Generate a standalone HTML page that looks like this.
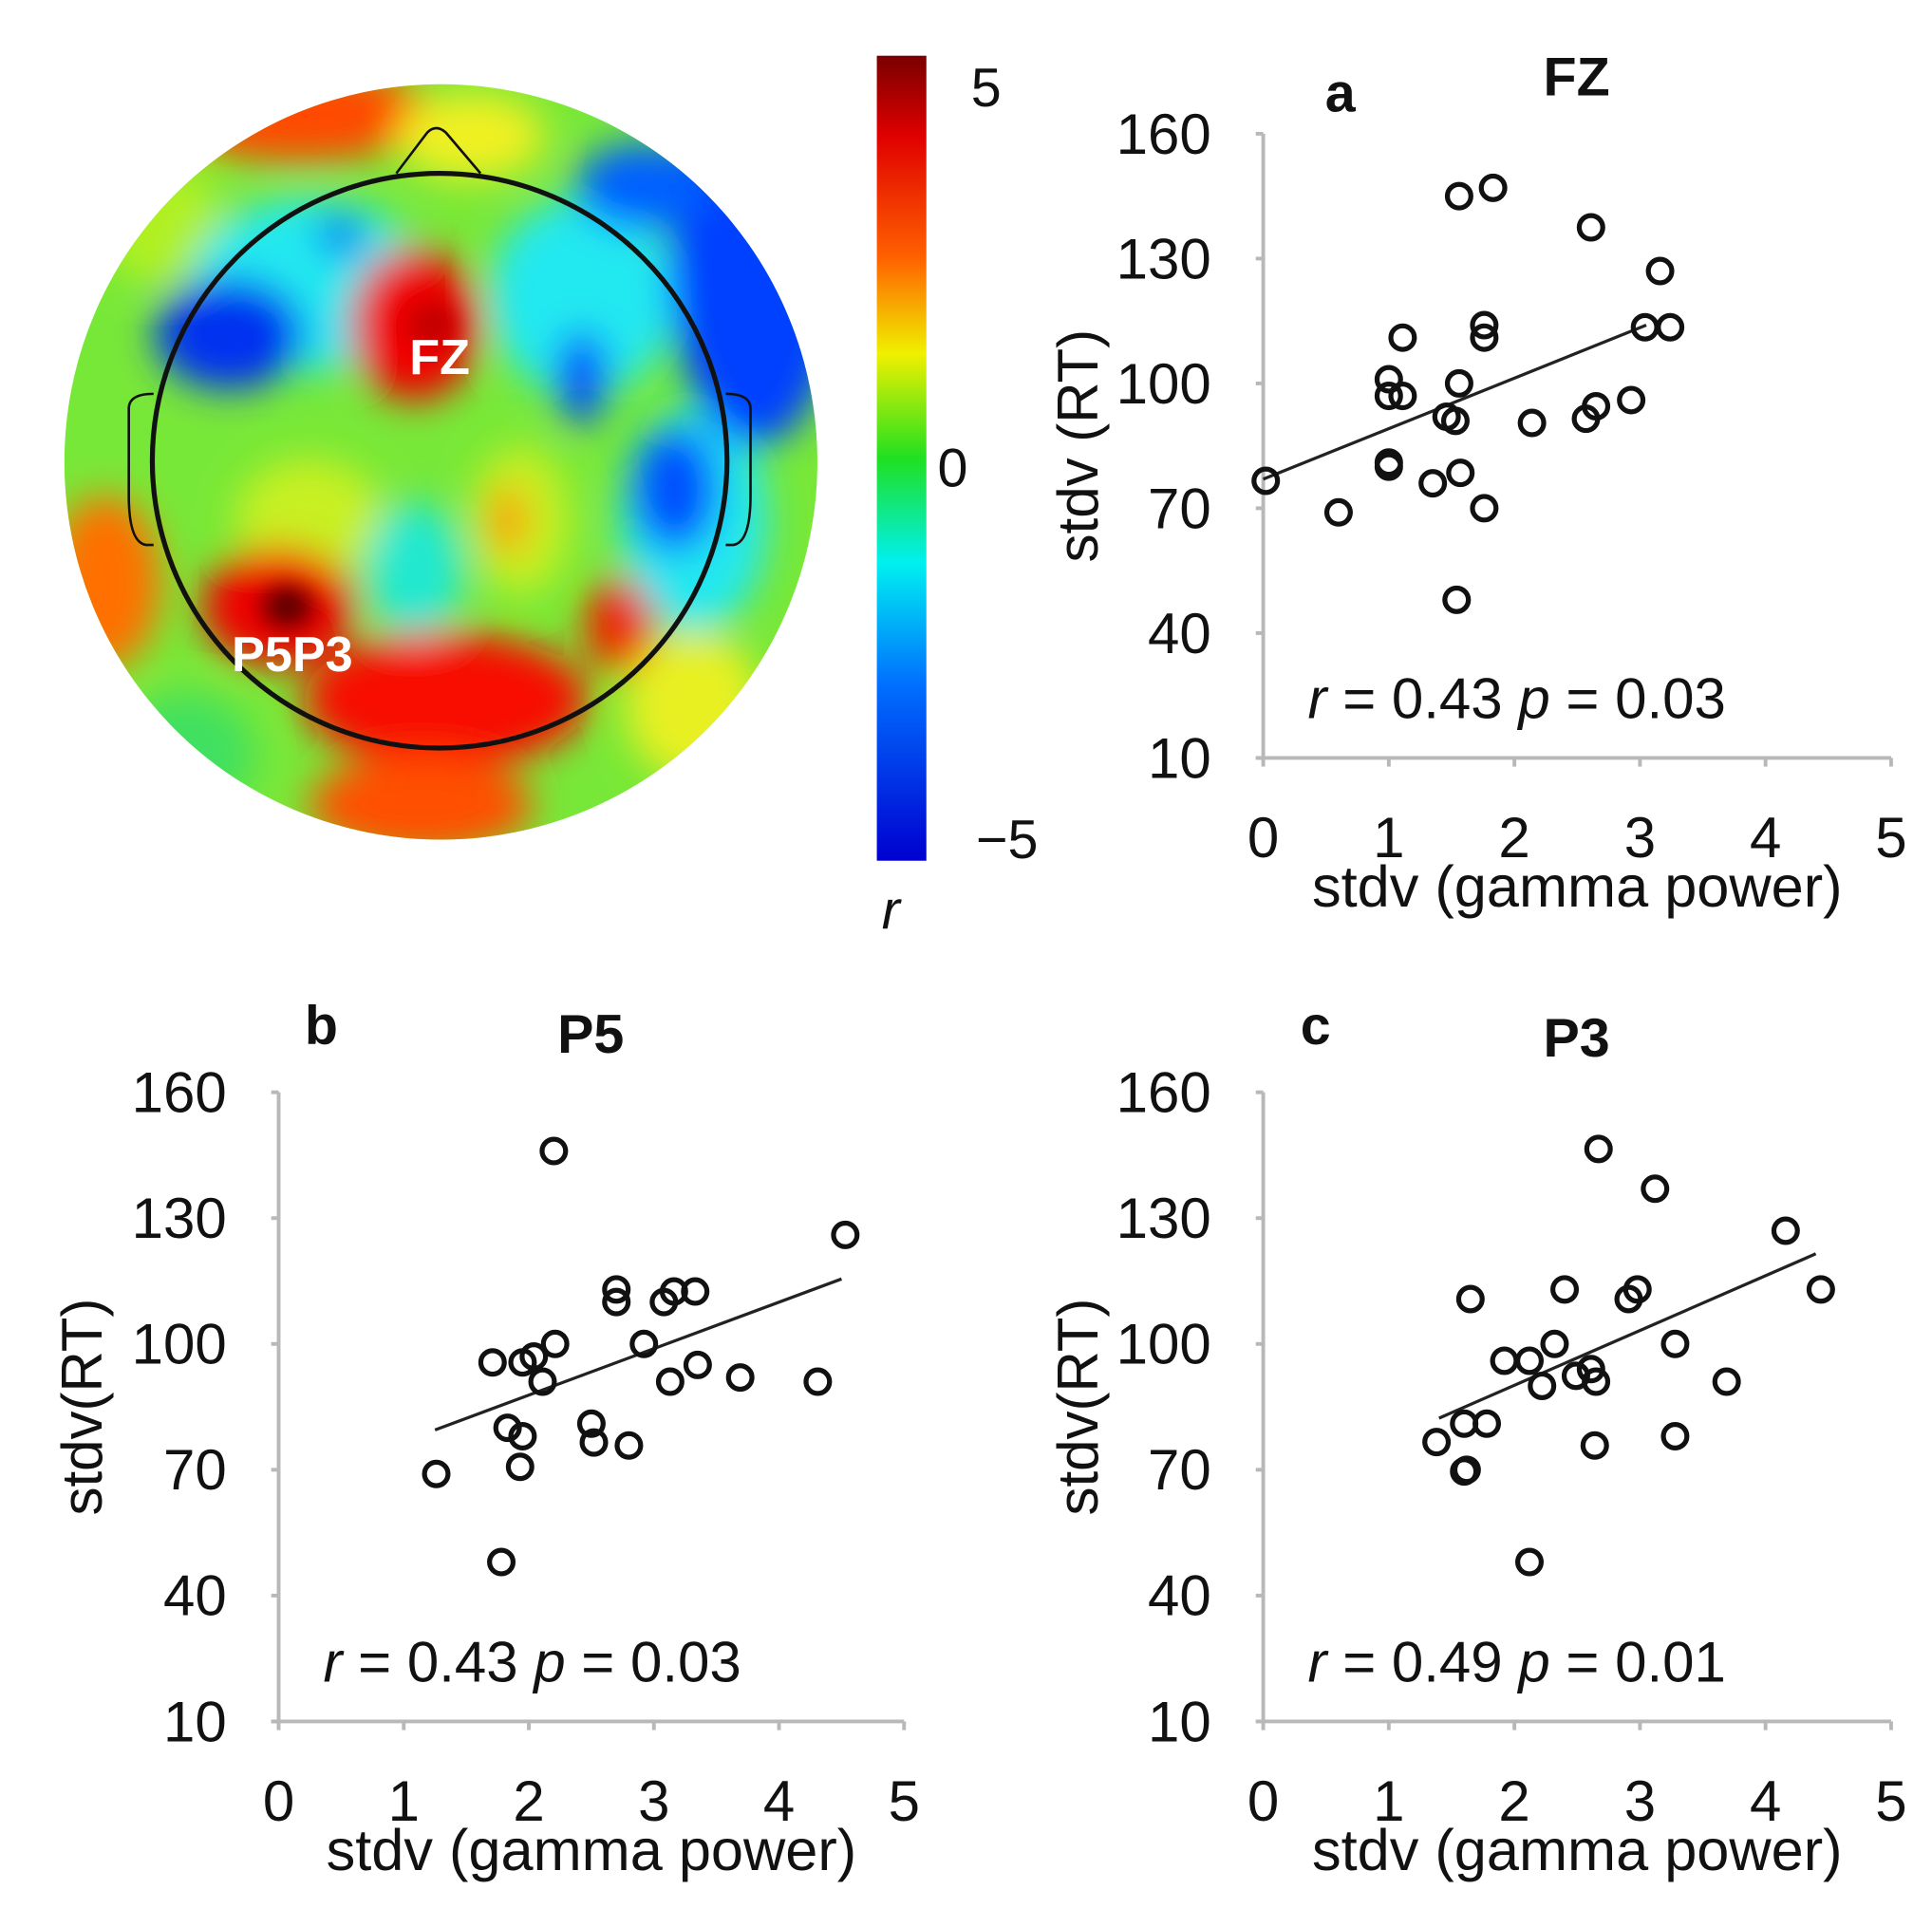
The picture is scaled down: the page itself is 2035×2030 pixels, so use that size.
<!DOCTYPE html>
<html><head><meta charset="utf-8">
<style>
html,body{margin:0;padding:0;background:#fff;}
svg{display:block;}
text{font-family:"Liberation Sans",sans-serif;}
</style></head>
<body>
<svg id="fig" width="2035" height="2030" viewBox="0 0 1560 1556" preserveAspectRatio="none" xmlns="http://www.w3.org/2000/svg">
<defs>
  <clipPath id="scalp"><ellipse cx="356" cy="373" rx="304" ry="305"/></clipPath>
  <filter id="blur" x="-50%" y="-50%" width="200%" height="200%"><feGaussianBlur stdDeviation="15"/></filter>
  <filter id="blur2" x="-50%" y="-50%" width="200%" height="200%"><feGaussianBlur stdDeviation="10"/></filter>
  <linearGradient id="jet" x1="0" y1="0" x2="0" y2="1">
    <stop offset="0" stop-color="#7a0000"/>
    <stop offset="0.1" stop-color="#e00000"/>
    <stop offset="0.25" stop-color="#ff6000"/>
    <stop offset="0.37" stop-color="#f0f000"/>
    <stop offset="0.5" stop-color="#20e020"/>
    <stop offset="0.63" stop-color="#00f0f0"/>
    <stop offset="0.78" stop-color="#0070ff"/>
    <stop offset="1" stop-color="#0000d0"/>
  </linearGradient>
</defs>

<g>
  <g clip-path="url(#scalp)">
    <rect x="40" y="60" width="640" height="640" fill="#78e838"/>
    <g filter="url(#blur)">
      <ellipse cx="240" cy="92" rx="110" ry="38" fill="#ff4a00"/>
      <ellipse cx="380" cy="110" rx="60" ry="35" fill="#f0f020"/>
      <ellipse cx="130" cy="180" rx="50" ry="50" fill="#b0f020"/>
      <ellipse cx="420" cy="420" rx="40" ry="60" fill="#c8f020"/>
      <ellipse cx="250" cy="420" rx="60" ry="50" fill="#c8f020"/>
      <ellipse cx="250" cy="230" rx="95" ry="70" fill="#20e8f0"/>
      <ellipse cx="470" cy="240" rx="75" ry="80" fill="#20e8f0"/>
      <ellipse cx="560" cy="420" rx="60" ry="90" fill="#20e8f0"/>
      <ellipse cx="610" cy="210" rx="70" ry="150" fill="#0040ff"/>
      <ellipse cx="520" cy="150" rx="55" ry="35" fill="#0060ff"/>
      <ellipse cx="470" cy="305" rx="20" ry="38" fill="#0040ff"/>
      <ellipse cx="545" cy="395" rx="35" ry="50" fill="#0050ff"/>
      <ellipse cx="185" cy="270" rx="60" ry="45" fill="#0030f0"/>
      <ellipse cx="275" cy="190" rx="18" ry="14" fill="#0040f0"/>
      <ellipse cx="335" cy="262" rx="52" ry="62" fill="#f00000"/>
      <ellipse cx="335" cy="460" rx="40" ry="55" fill="#20e8d0"/>
      <ellipse cx="410" cy="420" rx="14" ry="28" fill="#ff9000"/>
      <ellipse cx="85" cy="470" rx="45" ry="70" fill="#ff7000"/>
      <ellipse cx="225" cy="490" rx="62" ry="48" fill="#f00000"/>
      <ellipse cx="360" cy="565" rx="115" ry="55" fill="#f81000"/>
      <ellipse cx="340" cy="650" rx="90" ry="40" fill="#ff5000"/>
      <ellipse cx="500" cy="505" rx="28" ry="38" fill="#f02000"/>
      <ellipse cx="560" cy="570" rx="55" ry="60" fill="#e8f020"/>
      <ellipse cx="150" cy="610" rx="55" ry="50" fill="#40e060"/>
    </g>
    <g filter="url(#blur2)">
      <ellipse cx="232" cy="490" rx="20" ry="16" fill="#500000"/>
      <ellipse cx="350" cy="262" rx="20" ry="18" fill="#c00000"/>
    </g>
  </g>
  <circle cx="355" cy="372" r="232" fill="none" stroke="#111" stroke-width="4"/>
  <path d="M320,140 L345,107 Q352,100 360,107 L388,140" fill="none" stroke="#111" stroke-width="2"/>
  <path d="M124,318 Q104,318 104,330 L104,400 Q104,438 118,440 L124,440" fill="none" stroke="#111" stroke-width="2"/>
  <path d="M586,318 Q606,318 606,330 L606,400 Q606,438 592,440 L586,440" fill="none" stroke="#111" stroke-width="2"/>
  <text x="355" y="302" font-size="40" font-weight="bold" fill="#fff" text-anchor="middle">FZ</text>
  <text x="236" y="542" font-size="40" font-weight="bold" fill="#fff" text-anchor="middle">P5P3</text>
</g>

<g>
  <rect x="708" y="45" width="40" height="650" fill="url(#jet)"/>
  <text x="784" y="86" font-size="44" fill="#111">5</text>
  <text x="757" y="393" font-size="44" fill="#111">0</text>
  <text x="788" y="693" font-size="44" fill="#111">−5</text>
  <text x="712" y="750" font-size="44" font-style="italic" fill="#111">r</text>
</g>

<g id="panels"></g>
</svg>

<script>
// Panel a (FZ)
const aX = [0.02,0.6,1.0,1.0,1.11,1.11,1.0,1.0,1.35,1.46,1.53,1.56,1.57,1.54,1.56,1.83,1.76,1.76,1.76,2.14,2.57,2.65,2.61,2.93,3.16,3.04,3.24];
const aY = [76.6,69,101,97,97,111,81,80,76,92,91,100,78.5,48,145,147,114,111,70,90.5,91.5,94.5,137.5,96,127,113.5,113.5];
const aLine = [[0,77],[3.05,114]];
// Panel b (P5)
const bX = [1.26,1.71,1.95,2.04,2.21,2.11,1.83,1.95,1.93,1.78,2.2,2.5,2.52,2.8,2.7,2.7,2.92,3.08,3.16,3.33,3.13,3.35,3.69,4.31,4.53];
const bY = [69,95.6,95.6,97,100,91,80,78,70.7,48,146,81,76.5,75.8,113,110,100,110,112.5,112.5,91,95,92,91,126];
const bLine = [[1.25,79.5],[4.5,115.5]];
// Panel c (P3)
const cX = [1.38,1.6,1.78,1.6,1.62,1.65,1.92,2.12,2.22,2.32,2.4,2.49,2.61,2.65,2.64,2.67,2.12,2.91,2.98,3.12,3.28,3.28,3.69,4.16,4.44];
const cY = [76.6,81,81,69.6,70,110.7,96,96,90,100,113,92.4,94,91,75.8,146.5,48,110.7,113,137,100,78,91,127,113];
const cLine = [[1.4,82.3],[4.4,121.5]];
const xTicks = [0,1,2,3,4,5];
const yTicks = [10,40,70,100,130,160];

const NS = "http://www.w3.org/2000/svg";
const root = document.getElementById('panels');
function mk(tag, attrs, parent){
  const e = document.createElementNS(NS, tag);
  for (const k in attrs) e.setAttribute(k, attrs[k]);
  parent.appendChild(e);
  return e;
}
function panel(cfg){
  const g = mk('g', {}, root);
  
  
  const sx = v => cfg.x0 + v * cfg.xu;
  const sy = v => cfg.yb - (v - 10) * cfg.yh / 150;
  const ax = mk('g', {}, g);
  
  
  mk('line', {x1:sx(0), y1:sy(160), x2:sx(0), y2:sy(10), stroke:'#b8b8b8', 'stroke-width':3}, ax);
  mk('line', {x1:sx(0)-6, y1:sy(10), x2:sx(5), y2:sy(10), stroke:'#b8b8b8', 'stroke-width':3}, ax);
  xTicks.forEach(t => {
    mk('line', {x1:sx(t), y1:sy(10), x2:sx(t), y2:sy(10)+7, stroke:'#b8b8b8', 'stroke-width':3}, ax);
    const tx = mk('text', {x:sx(t), y:sy(10)+80, 'font-size':46, 'text-anchor':'middle', fill:'#111'}, ax);
    
    
    tx.textContent = t;
  });
  yTicks.forEach(t => {
    mk('line', {x1:sx(0)-6, y1:sy(t), x2:sx(0), y2:sy(t), stroke:'#b8b8b8', 'stroke-width':3}, ax);
    const ty = mk('text', {x:sx(0)-42, y:sy(t)+16, 'font-size':46, 'text-anchor':'end', fill:'#111'}, ax);
    
    
    ty.textContent = t;
  });
  const xl = mk('text', {x:sx(2.5), y:sy(10)+120, 'font-size':47, 'text-anchor':'middle', fill:'#111'}, g);
  
  
  xl.textContent = 'stdv (gamma power)';
  const yc = sy(85);
  const yl = mk('text', {x:cfg.ylx, y:yc, 'font-size':46, 'text-anchor':'middle', fill:'#111', transform:`rotate(-90 ${cfg.ylx} ${yc})`}, g);
  
  
  yl.textContent = cfg.ylabel;
  const lt = mk('text', {x:cfg.lx, y:cfg.ly, 'font-size':44, 'font-weight':'bold', fill:'#111'}, g);
  
  
  lt.textContent = cfg.letter;
  const tt = mk('text', {x:cfg.tx, y:cfg.ty, 'font-size':44, 'font-weight':'bold', fill:'#111', 'text-anchor':'middle'}, g);
  
  
  tt.textContent = cfg.title;
  const st = mk('text', {x:sx(0)+36, y:sy(10)-32, 'font-size':46, fill:'#111'}, g);
  
  
  st.innerHTML = `<tspan font-style="italic">r</tspan> = ${cfg.r} <tspan font-style="italic">p</tspan> = ${cfg.p}`;
  const ln = mk('line', {x1:sx(cfg.line[0][0]), y1:sy(cfg.line[0][1]), x2:sx(cfg.line[1][0]), y2:sy(cfg.line[1][1]), stroke:'#222', 'stroke-width':2.5}, g);
  
  
  cfg.xs.forEach((v, i) => {
    const c = mk('circle', {cx:sx(v), cy:sy(cfg.ys[i]), r:9.5, fill:'none', stroke:'#111', 'stroke-width':4}, g);
    
    
  });
}
panel({name:'scatter-fz', x0:1020, xu:101.4, yb:612, yh:504, xs:aX, ys:aY, line:aLine,
  ylabel:'stdv (RT)', ylx:886, letter:'a', lx:1070, ly:90, title:'FZ', tx:1273, ty:77, r:'0.43', p:'0.03'});
panel({name:'scatter-p5', x0:225, xu:101, yb:1390, yh:508, xs:bX, ys:bY, line:bLine,
  ylabel:'stdv(RT)', ylx:82, letter:'b', lx:246, ly:843, title:'P5', tx:477, ty:850, r:'0.43', p:'0.03'});
panel({name:'scatter-p3', x0:1020, xu:101.4, yb:1390, yh:508, xs:cX, ys:cY, line:cLine,
  ylabel:'stdv(RT)', ylx:886, letter:'c', lx:1050, ly:843, title:'P3', tx:1273, ty:853, r:'0.49', p:'0.01'});
</script>
</body></html>
